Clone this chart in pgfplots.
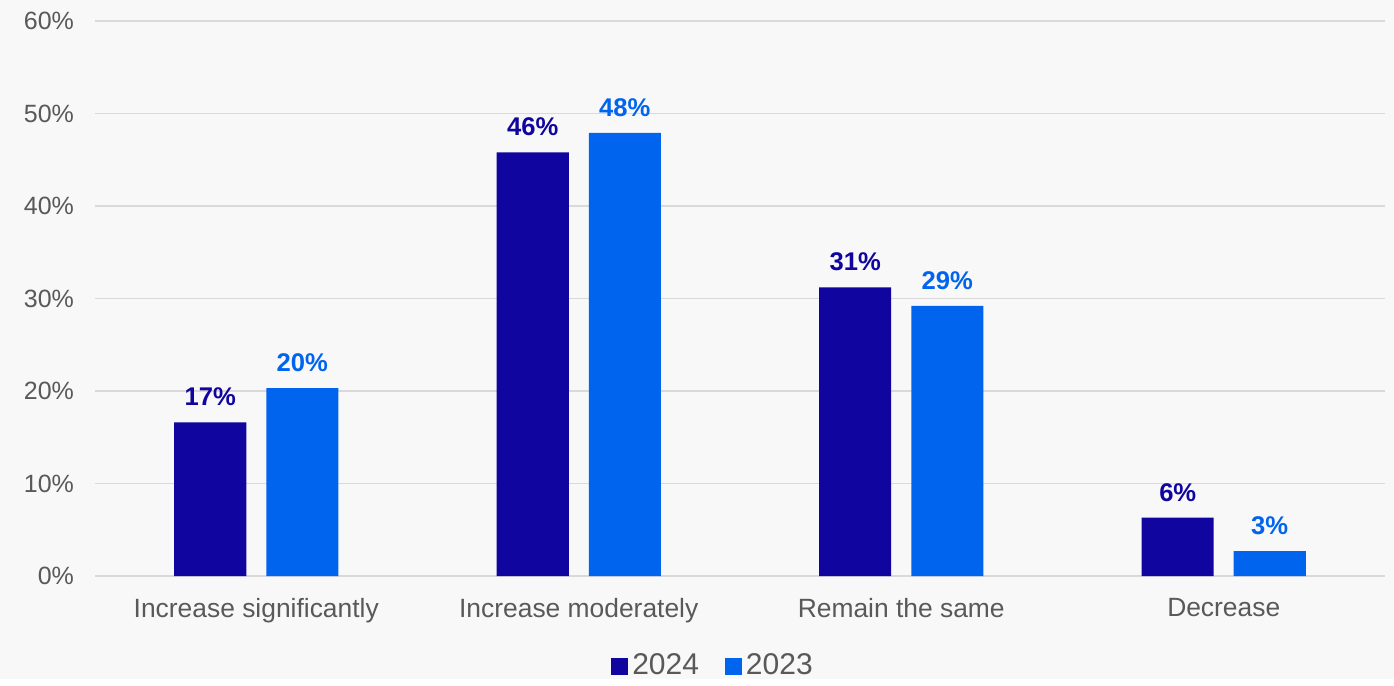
\documentclass[border=0pt]{standalone}
\usepackage{fontspec}
\setmainfont{Liberation Sans}
\usepackage{pgfplots}
\pgfplotsset{compat=1.18}
\definecolor{bg}{HTML}{F8F8F8}
\definecolor{navy}{HTML}{10069F}
\definecolor{brightblue}{HTML}{0064EE}
\definecolor{txtgray}{HTML}{595959}
\definecolor{gridgray}{HTML}{D9D9D9}
\begin{document}
\begin{tikzpicture}
\fill[bg] (-47.5pt,-51.5pt) rectangle (649.5pt,288pt);
\begin{axis}[
  at={(0pt,0pt)}, anchor=south west,
  scale only axis,
  width=645pt, height=277.5pt,
  ymin=0, ymax=60,
  xmin=-0.5, xmax=3.5,
  ytick={0,10,...,60},
  xtick={0,1,2,3},
  xticklabels={Increase significantly, Increase moderately, Remain the same, Decrease},
  yticklabel={\pgfmathprintnumber{\tick}\%},
  /pgf/number format/assume math mode=true,
  ymajorgrids,
  grid style={draw=gridgray, line width=0.75pt},
  axis line style={draw=none},
  major tick length=0pt,
  tick label style={font=\fontsize{12.5}{15}\selectfont, text=txtgray},
  yticklabel style={xshift=-7pt},
  xticklabel style={font=\fontsize{13.2}{16}\selectfont, yshift=-7.5pt},
  ybar=10pt,
  bar width=36pt,
  nodes near coords={\pgfmathprintnumber[fixed,precision=0]{\pgfplotspointmeta}\%},
  nodes near coords style={font=\fontsize{12.8}{15}\selectfont\bfseries, inner sep=0pt, anchor=south, yshift=8pt},
  legend style={at={(0.5,0)}, anchor=center, yshift=-45pt, xshift=-13pt, draw=none, fill=none,
    font=\fontsize{15}{18}\selectfont, text=txtgray, legend columns=2,
    /tikz/every even column/.append style={column sep=11pt}},
  legend image code/.code={\fill[#1] (0pt,-4.25pt) rectangle (8.5pt,4.25pt);},
  legend cell align=left,
]
\addplot[fill=navy, draw=none, nodes near coords style={text=navy}] coordinates {(0,16.6) (1,45.8) (2,31.2) (3,6.3)};
\addplot[fill=brightblue, draw=none, nodes near coords style={text=brightblue}] coordinates {(0,20.3) (1,47.9) (2,29.2) (3,2.7)};
\legend{2024,2023}
\end{axis}
\end{tikzpicture}
\end{document}
